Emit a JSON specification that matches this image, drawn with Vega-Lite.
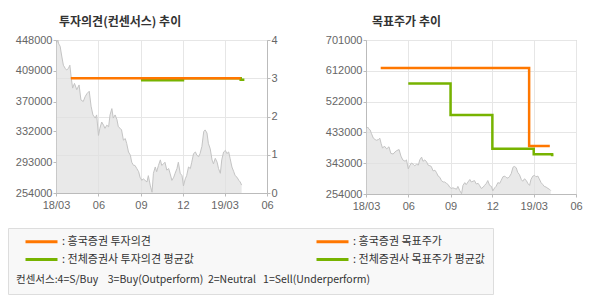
{
  "$schema": "https://vega.github.io/schema/vega-lite/v6.json",
  "padding": {"left": 7, "top": 15, "right": 5, "bottom": 5},
  "background": "white",
  "config": {
    "view": {"stroke": "#bbbbbb"},
    "axis": {"labelFont": "Liberation Sans", "labelFontSize": 11, "labelColor": "#666666", "domainColor": "#bbbbbb", "tickColor": "#bbbbbb", "tickSize": 3, "gridColor": "#e6e6e6", "title": null, "labelPadding": 1, "labelOverlap": false},
    "axisX": {"labelPadding": 3, "labelFlush": false},
    "title": {"font": "Noto Sans CJK KR", "fontSize": 12, "fontWeight": "bold", "color": "#333333", "anchor": "start", "frame": "group"},
    "concat": {"spacing": 46}
  },
  "datasets": {
    "price": [
      {"date": "2018-03-02", "price": 444000}, {"date": "2018-03-05", "price": 448000}, {"date": "2018-03-07", "price": 443000},
      {"date": "2018-03-10", "price": 440000}, {"date": "2018-03-13", "price": 429000}, {"date": "2018-03-17", "price": 416000},
      {"date": "2018-03-21", "price": 412000}, {"date": "2018-03-24", "price": 410000}, {"date": "2018-03-28", "price": 412000},
      {"date": "2018-03-31", "price": 416000}, {"date": "2018-04-03", "price": 400000}, {"date": "2018-04-06", "price": 387000},
      {"date": "2018-04-10", "price": 393000}, {"date": "2018-04-15", "price": 385000}, {"date": "2018-04-20", "price": 391000},
      {"date": "2018-04-24", "price": 372000}, {"date": "2018-04-29", "price": 370000}, {"date": "2018-05-03", "price": 376000},
      {"date": "2018-05-07", "price": 380000}, {"date": "2018-05-12", "price": 383000}, {"date": "2018-05-16", "price": 364000},
      {"date": "2018-05-20", "price": 353000}, {"date": "2018-05-25", "price": 349000}, {"date": "2018-05-28", "price": 353000},
      {"date": "2018-06-01", "price": 327000}, {"date": "2018-06-04", "price": 336000}, {"date": "2018-06-08", "price": 344000},
      {"date": "2018-06-12", "price": 340000}, {"date": "2018-06-15", "price": 336000}, {"date": "2018-06-19", "price": 340000},
      {"date": "2018-06-23", "price": 338000}, {"date": "2018-06-26", "price": 353000}, {"date": "2018-06-30", "price": 361000},
      {"date": "2018-07-03", "price": 349000}, {"date": "2018-07-07", "price": 353000}, {"date": "2018-07-11", "price": 347000},
      {"date": "2018-07-14", "price": 338000}, {"date": "2018-07-18", "price": 336000}, {"date": "2018-07-21", "price": 334000},
      {"date": "2018-07-25", "price": 321000}, {"date": "2018-07-29", "price": 323000}, {"date": "2018-08-01", "price": 317000},
      {"date": "2018-08-05", "price": 306000}, {"date": "2018-08-09", "price": 302000}, {"date": "2018-08-12", "price": 293000},
      {"date": "2018-08-16", "price": 289000}, {"date": "2018-08-19", "price": 289000}, {"date": "2018-08-23", "price": 285000},
      {"date": "2018-08-27", "price": 281000}, {"date": "2018-08-30", "price": 274000}, {"date": "2018-09-03", "price": 270000},
      {"date": "2018-09-06", "price": 272000}, {"date": "2018-09-10", "price": 270000}, {"date": "2018-09-14", "price": 268000},
      {"date": "2018-09-17", "price": 276000}, {"date": "2018-09-21", "price": 264000}, {"date": "2018-09-25", "price": 255000},
      {"date": "2018-09-28", "price": 279000}, {"date": "2018-10-02", "price": 287000}, {"date": "2018-10-05", "price": 281000},
      {"date": "2018-10-09", "price": 289000}, {"date": "2018-10-13", "price": 296000}, {"date": "2018-10-16", "price": 289000},
      {"date": "2018-10-20", "price": 291000}, {"date": "2018-10-23", "price": 293000}, {"date": "2018-10-27", "price": 283000},
      {"date": "2018-10-31", "price": 285000}, {"date": "2018-11-03", "price": 279000}, {"date": "2018-11-07", "price": 270000},
      {"date": "2018-11-11", "price": 274000}, {"date": "2018-11-14", "price": 279000}, {"date": "2018-11-18", "price": 285000},
      {"date": "2018-11-21", "price": 293000}, {"date": "2018-11-25", "price": 279000}, {"date": "2018-11-29", "price": 276000},
      {"date": "2018-12-02", "price": 263000}, {"date": "2018-12-06", "price": 272000}, {"date": "2018-12-09", "price": 276000},
      {"date": "2018-12-13", "price": 287000}, {"date": "2018-12-17", "price": 285000}, {"date": "2018-12-20", "price": 293000},
      {"date": "2018-12-24", "price": 304000}, {"date": "2018-12-28", "price": 306000}, {"date": "2018-12-31", "price": 302000},
      {"date": "2019-01-04", "price": 300000}, {"date": "2019-01-07", "price": 304000}, {"date": "2019-01-11", "price": 313000},
      {"date": "2019-01-15", "price": 332000}, {"date": "2019-01-18", "price": 334000}, {"date": "2019-01-22", "price": 330000},
      {"date": "2019-01-25", "price": 317000}, {"date": "2019-01-29", "price": 310000}, {"date": "2019-02-02", "price": 296000},
      {"date": "2019-02-05", "price": 291000}, {"date": "2019-02-09", "price": 298000}, {"date": "2019-02-13", "price": 293000},
      {"date": "2019-02-16", "price": 285000}, {"date": "2019-02-20", "price": 279000}, {"date": "2019-02-23", "price": 296000},
      {"date": "2019-02-27", "price": 306000}, {"date": "2019-03-03", "price": 308000}, {"date": "2019-03-06", "price": 304000},
      {"date": "2019-03-10", "price": 306000}, {"date": "2019-03-13", "price": 298000}, {"date": "2019-03-17", "price": 287000},
      {"date": "2019-03-21", "price": 281000}, {"date": "2019-03-24", "price": 276000}, {"date": "2019-03-28", "price": 274000},
      {"date": "2019-04-01", "price": 270000}, {"date": "2019-04-04", "price": 268000}, {"date": "2019-04-07", "price": 264000}
    ],
    "opinion_avg": [
      {"date": "2018-09-01", "value": 2.95, "series": "전체증권사 투자의견 평균값"},
      {"date": "2018-12-01", "value": 3.0, "series": "전체증권사 투자의견 평균값"},
      {"date": "2019-04-05", "value": 2.96, "series": "전체증권사 투자의견 평균값"},
      {"date": "2019-04-13", "value": 2.96, "series": "전체증권사 투자의견 평균값"}
    ],
    "opinion_hk": [
      {"date": "2018-04-02", "value": 3, "series": "흥국증권 투자의견"},
      {"date": "2019-04-05", "value": 3, "series": "흥국증권 투자의견"}
    ],
    "target_avg": [
      {"date": "2018-06-01", "value": 575000, "series": "전체증권사 목표주가 평균값"},
      {"date": "2018-09-01", "value": 483000, "series": "전체증권사 목표주가 평균값"},
      {"date": "2018-12-01", "value": 385000, "series": "전체증권사 목표주가 평균값"},
      {"date": "2019-03-01", "value": 369600, "series": "전체증권사 목표주가 평균값"},
      {"date": "2019-04-10", "value": 367000, "series": "전체증권사 목표주가 평균값"},
      {"date": "2019-04-13", "value": 367000, "series": "전체증권사 목표주가 평균값"}
    ],
    "target_hk": [
      {"date": "2018-04-02", "value": 620000, "series": "흥국증권 목표주가"},
      {"date": "2019-02-19", "value": 393000, "series": "흥국증권 목표주가"},
      {"date": "2019-04-05", "value": 393000, "series": "흥국증권 목표주가"}
    ]
  },
  "hconcat": [
    {
      "width": 211,
      "height": 153,
      "title": {"text": "투자의견(컨센서스) 추이", "dx": 3, "offset": 5},
      "layer": [
        {
          "data": {"name": "price"},
          "mark": {"type": "area", "color": "#e0e0e0", "line": {"color": "#c4c4c4", "strokeWidth": 1}, "clip": true},
          "encoding": {
            "x": {"field": "date", "type": "temporal",
              "scale": {"type": "utc", "domain": [{"year": 2018, "month": 3, "date": 1, "utc": true}, {"year": 2019, "month": 6, "date": 1, "utc": true}]},
              "axis": {"grid": true,
                "values": [{"year": 2018, "month": 3, "date": 1, "utc": true}, {"year": 2018, "month": 6, "date": 1, "utc": true}, {"year": 2018, "month": 9, "date": 1, "utc": true}, {"year": 2018, "month": 12, "date": 1, "utc": true}, {"year": 2019, "month": 3, "date": 1, "utc": true}, {"year": 2019, "month": 6, "date": 1, "utc": true}],
                "labelExpr": "utcFormat(datum.value, '%m') == '03' ? utcFormat(datum.value, '%y/%m') : utcFormat(datum.value, '%m')"}},
            "y": {"field": "price", "type": "quantitative",
              "scale": {"domain": [254000, 448000], "zero": false, "nice": false},
              "axis": {"orient": "left", "grid": false, "values": [254000, 293000, 332000, 370000, 409000, 448000], "format": "d"}}
          }
        },
        {
          "layer": [
            {
              "data": {"name": "opinion_avg"},
              "mark": {"type": "line", "interpolate": "step-after", "strokeWidth": 2.5},
              "encoding": {
                "x": {"field": "date", "type": "temporal"},
                "y": {"field": "value", "type": "quantitative", "scale": {"domain": [0, 4], "nice": false},
                  "axis": {"orient": "right", "grid": true, "values": [0, 1, 2, 3, 4]}},
                "color": {"field": "series", "type": "nominal",
                  "scale": {"domain": ["흥국증권 투자의견", "전체증권사 투자의견 평균값", "흥국증권 목표주가", "전체증권사 목표주가 평균값"], "range": ["#ff7700", "#77b300", "#ff7700", "#77b300"]},
                  "legend": {"orient": "none", "legendX": -48, "legendY": 188, "columns": 2, "columnPadding": 113, "rowPadding": 5, "padding": 8,
                    "symbolType": "M-1,0L7,0", "symbolSize": 64, "symbolStrokeWidth": 3, "symbolOffset": 8, "labelOffset": 27,
                    "labelFont": "Noto Sans CJK KR", "labelFontSize": 11, "labelColor": "#333333", "labelLimit": 400,
                    "labelExpr": "': ' + datum.label",
                    "title": "컨센서스:4=S/Buy\u00a0\u00a0\u00a0 3=Buy(Outperform)\u00a0 2=Neutral\u00a0\u00a0 1=Sell(Underperform)",
                    "titleOrient": "bottom", "titleAnchor": "start", "titleFont": "Noto Sans CJK KR", "titleFontSize": 10.5, "titleFontWeight": "normal", "titleColor": "#333333", "titlePadding": 9, "titleLimit": 600,
                    "fillColor": "#f8f8f8", "strokeColor": "#dddddd"}}
              }
            },
            {
              "data": {"name": "opinion_hk"},
              "mark": {"type": "line", "interpolate": "step-after", "strokeWidth": 2.5},
              "encoding": {
                "x": {"field": "date", "type": "temporal"},
                "y": {"field": "value", "type": "quantitative",
                  "axis": {"orient": "right", "grid": true, "values": [0, 1, 2, 3, 4]}},
                "color": {"field": "series", "type": "nominal"}
              }
            }
          ]
        }
      ],
      "resolve": {"scale": {"y": "independent"}}
    },
    {
      "width": 210,
      "height": 154,
      "title": {"text": "목표주가 추이", "dx": 6, "offset": 5},
      "layer": [
        {
          "data": {"name": "price"},
          "mark": {"type": "area", "color": "#e0e0e0", "line": {"color": "#c4c4c4", "strokeWidth": 1}, "clip": true},
          "encoding": {
            "x": {"field": "date", "type": "temporal",
              "scale": {"type": "utc", "domain": [{"year": 2018, "month": 3, "date": 1, "utc": true}, {"year": 2019, "month": 6, "date": 1, "utc": true}]},
              "axis": {"grid": true,
                "values": [{"year": 2018, "month": 3, "date": 1, "utc": true}, {"year": 2018, "month": 6, "date": 1, "utc": true}, {"year": 2018, "month": 9, "date": 1, "utc": true}, {"year": 2018, "month": 12, "date": 1, "utc": true}, {"year": 2019, "month": 3, "date": 1, "utc": true}, {"year": 2019, "month": 6, "date": 1, "utc": true}],
                "labelExpr": "utcFormat(datum.value, '%m') == '03' ? utcFormat(datum.value, '%y/%m') : utcFormat(datum.value, '%m')"}},
            "y": {"field": "price", "type": "quantitative",
              "scale": {"domain": [254000, 701000], "zero": false, "nice": false},
              "axis": {"orient": "left", "grid": true, "values": [254000, 343000, 433000, 522000, 612000, 701000], "format": "d"}}
          }
        },
        {
          "data": {"name": "target_avg"},
          "mark": {"type": "line", "interpolate": "step-after", "strokeWidth": 2.5},
          "encoding": {
            "x": {"field": "date", "type": "temporal"},
            "y": {"field": "value", "type": "quantitative",
              "axis": {"orient": "left", "grid": true, "values": [254000, 343000, 433000, 522000, 612000, 701000], "format": "d"}},
            "color": {"field": "series", "type": "nominal"}
          }
        },
        {
          "data": {"name": "target_hk"},
          "mark": {"type": "line", "interpolate": "step-after", "strokeWidth": 2.5},
          "encoding": {
            "x": {"field": "date", "type": "temporal"},
            "y": {"field": "value", "type": "quantitative",
              "axis": {"orient": "left", "grid": true, "values": [254000, 343000, 433000, 522000, 612000, 701000], "format": "d"}},
            "color": {"field": "series", "type": "nominal"}
          }
        }
      ]
    }
  ]
}
